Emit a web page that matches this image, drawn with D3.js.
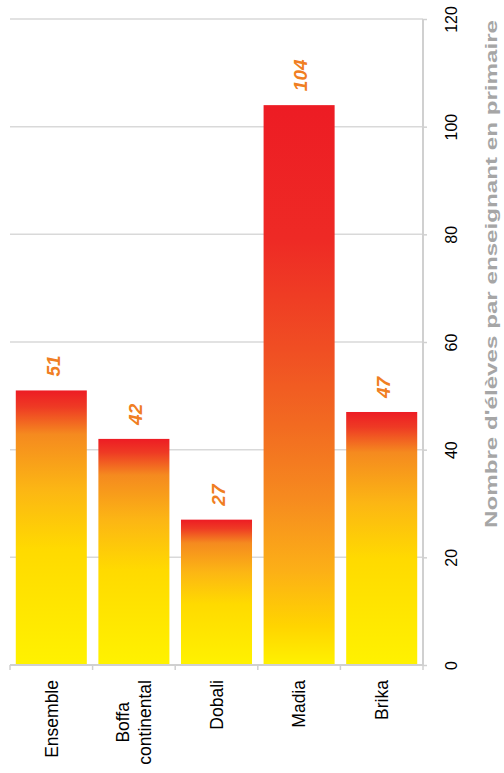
<!DOCTYPE html>
<html>
<head>
<meta charset="utf-8">
<script src="https://cdn.jsdelivr.net/npm/d3@7"></script>
<style>
  html, body { margin: 0; padding: 0; background: #fff; }
  svg { display: block; }
</style>
</head>
<body>
<svg id="chart" width="504" height="773"></svg>
<script>
const categories = ["Ensemble", "Boffa\ncontinental", "Dobali", "Madia", "Brika"];
const values = [51, 42, 27, 104, 47];
const valueTicks = [0, 20, 40, 60, 80, 100, 120];
const axisTitle = "Nombre d'élèves par enseignant en primaire";

(function () {
const svg = d3.select("#chart");
const pLeft = 10, pRight = 423, pTop = 19, pBottom = 665;

const x = d3.scaleBand().domain(d3.range(categories.length)).range([pLeft, pRight]).padding(0);
const y = d3.scaleLinear().domain([0, 120]).range([pBottom, pTop]);

// gradients (per bar bounding box, top -> bottom)
const defs = svg.append("defs");
function makeGrad(id, stops) {
  const g = defs.append("linearGradient").attr("id", id)
    .attr("x1", 0).attr("y1", 0).attr("x2", 0).attr("y2", 1);
  stops.forEach(([o, c]) => g.append("stop").attr("offset", o).attr("stop-color", c));
}
makeGrad("gradShort", [[0, "#ED1C24"], [0.06, "#EE3A24"], [0.16, "#F58A1F"], [0.36, "#FCB614"], [0.58, "#FFDA00"], [1, "#FFF200"]]);
makeGrad("gradTall", [[0, "#ED1C24"], [0.24, "#EE2A25"], [0.44, "#F04F23"], [0.57, "#F26A21"], [0.70, "#F68A1F"], [0.83, "#FCAF17"], [0.93, "#FFD400"], [1, "#FFF200"]]);
const maxVal = d3.max(values);

// gridlines
svg.append("g").selectAll("line").data(valueTicks.filter(v => v > 0)).join("line")
  .attr("x1", pLeft).attr("x2", pRight)
  .attr("y1", d => y(d)).attr("y2", d => y(d))
  .attr("stroke", "#D9D9D9").attr("stroke-width", 1.5);

// bars
const inset = 0.07;
svg.append("g").selectAll("rect").data(values).join("rect")
  .attr("x", (d, i) => x(i) + x.bandwidth() * inset)
  .attr("width", x.bandwidth() * (1 - 2 * inset))
  .attr("y", d => y(d))
  .attr("height", d => y(0) - y(d))
  .attr("fill", d => d === maxVal ? "url(#gradTall)" : "url(#gradShort)");

// right value axis
const yAxis = d3.axisRight(y).tickValues(valueTicks).tickSize(4).tickFormat(d3.format("d"));
const gy = svg.append("g").attr("transform", `translate(${pRight},0)`).call(yAxis);
gy.select(".domain").attr("stroke", "#D0D0D0").attr("stroke-width", 2).attr("d", `M0,${pTop}V${pBottom}`);
gy.selectAll(".tick line").attr("stroke", "#D0D0D0").attr("stroke-width", 1.5);
gy.selectAll(".tick text")
  .attr("x", 0).attr("y", 0).attr("dy", null)
  .attr("transform", "translate(34,0) rotate(-90)")
  .attr("text-anchor", "middle")
  .attr("font-family", "Liberation Sans, Arial, sans-serif")
  .attr("font-size", 16).attr("fill", "#000");

// bottom axis line & ticks
const gx = svg.append("g");
gx.append("line").attr("x1", pLeft).attr("x2", pRight).attr("y1", pBottom).attr("y2", pBottom)
  .attr("stroke", "#D0D0D0").attr("stroke-width", 2);
const bounds = d3.range(categories.length + 1).map(i => i < categories.length ? x(i) : x(i - 1) + x.bandwidth());
gx.selectAll("line.t").data(bounds).join("line").attr("class", "t")
  .attr("x1", d => d).attr("x2", d => d).attr("y1", pBottom).attr("y2", pBottom + 5)
  .attr("stroke", "#D0D0D0").attr("stroke-width", 1.5);

// category labels
const catFont = 17.5, lineH = 22;
categories.forEach((c, i) => {
  const lines = c.split("\n");
  const cx = x(i) + x.bandwidth() / 2;
  const g = svg.append("g").attr("transform", `translate(${cx},680) rotate(-90)`);
  const n = lines.length;
  const texts = lines.map((ln, k) => g.append("text")
    .attr("font-family", "Liberation Sans, Arial, sans-serif")
    .attr("font-size", catFont).attr("fill", "#000")
    .attr("y", (k - (n - 1) / 2) * lineH)
    .attr("dy", "0.36em")
    .text(ln));
  if (n === 1) {
    texts[0].attr("text-anchor", "end").attr("x", 0);
  } else {
    const maxLen = d3.max(texts, t => t.node().getComputedTextLength());
    texts.forEach(t => t.attr("text-anchor", "middle").attr("x", -maxLen / 2));
  }
});

// value labels
svg.append("g").selectAll("text").data(values).join("text")
  .attr("transform", (d, i) => `translate(${x(i) + x.bandwidth() / 2 + 1.5},${y(d) - 14}) rotate(-90)`)
  .attr("text-anchor", "start")
  .attr("dy", "0.36em")
  .attr("font-family", "Liberation Sans, Arial, sans-serif")
  .attr("font-size", 19).attr("font-weight", "bold").attr("font-style", "italic")
  .attr("fill", "#F07E22")
  .text(d => d);

// axis title
svg.append("text")
  .attr("transform", "translate(497,274) rotate(-90)")
  .attr("text-anchor", "middle")
  .attr("font-family", "Liberation Sans, Arial, sans-serif")
  .attr("font-size", 16.5).attr("font-weight", "bold")
  .attr("fill", "#A6A6A6")
  .attr("textLength", 508).attr("lengthAdjust", "spacingAndGlyphs")
  .text(axisTitle);
})();
</script>
</body>
</html>
